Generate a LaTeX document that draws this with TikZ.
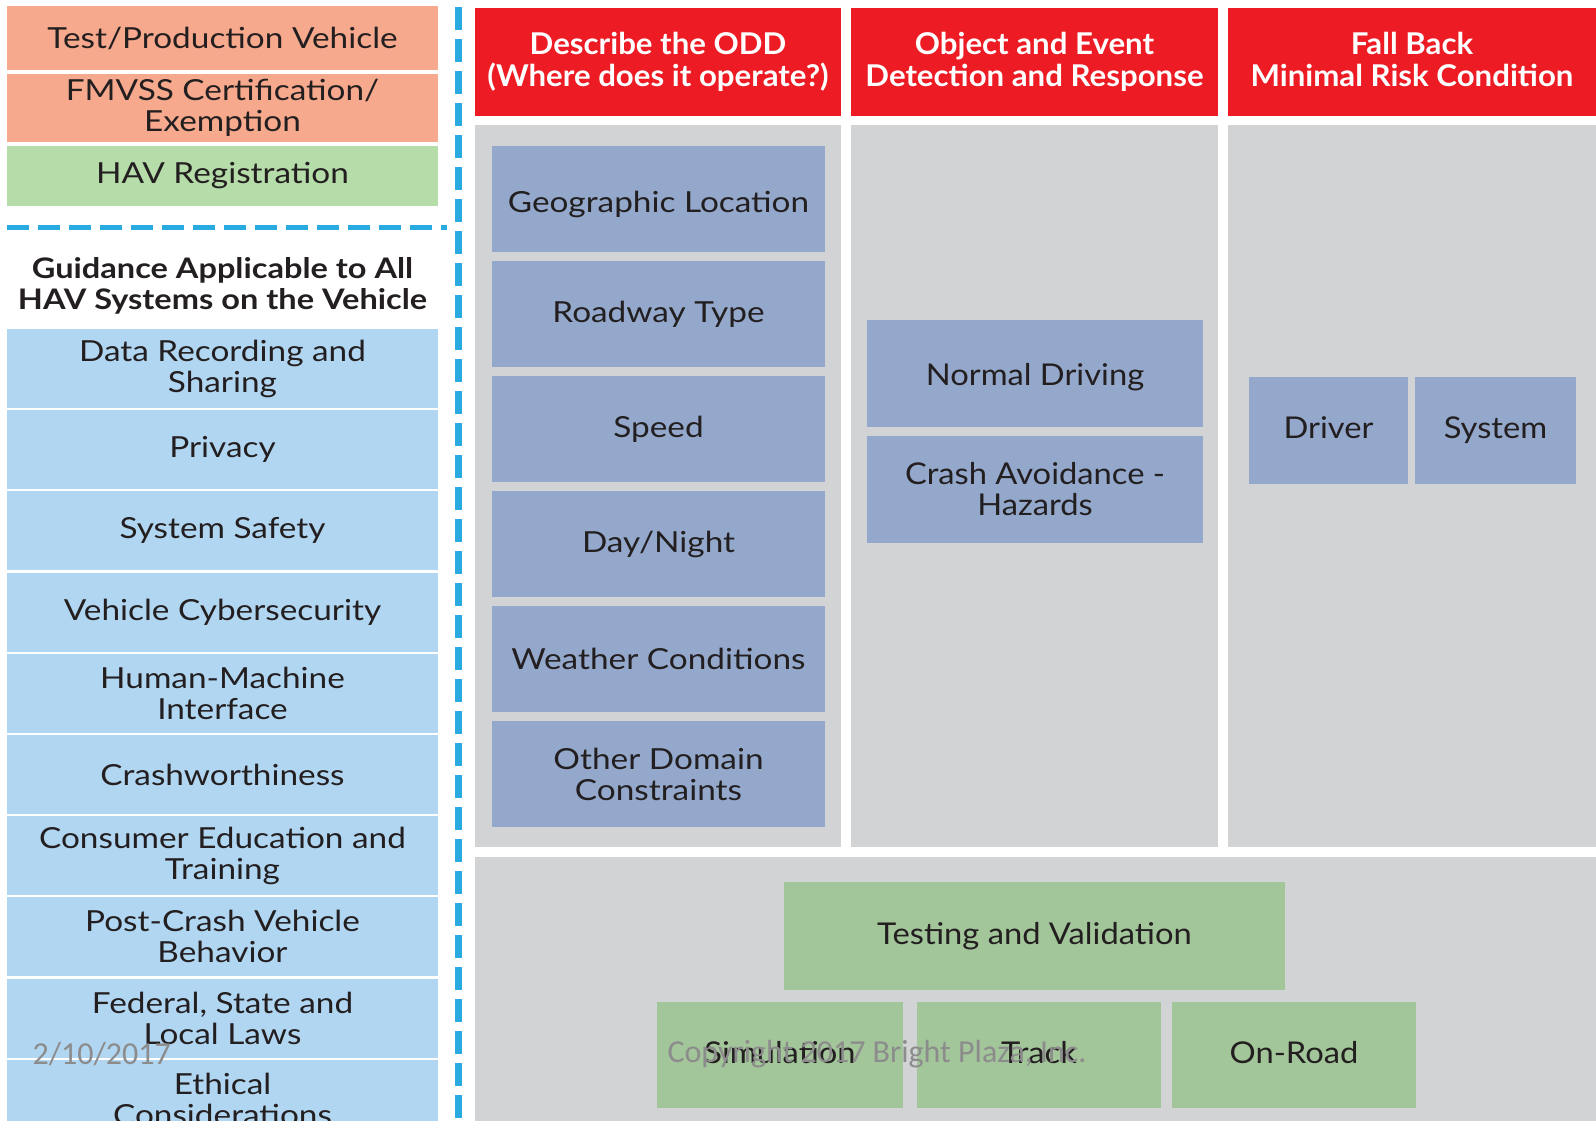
\documentclass[tikz,border=0pt]{standalone}
\usepackage{fontspec}
\setmainfont{Lato}[FakeStretch=1.15]
\newfontfamily\condfont[FakeStretch=1.09]{Lato}
\newfontfamily\headfont[FakeStretch=1.04]{Lato}
\newfontfamily\markfont{Carlito}

\definecolor{salmon}{HTML}{F6A98C}
\definecolor{regGreen}{HTML}{B5DCA9}
\definecolor{guideBlue}{HTML}{B1D6F1}
\definecolor{headRed}{HTML}{ED1C24}
\definecolor{panelGray}{HTML}{D1D3D4}
\definecolor{oddBlue}{HTML}{93A8CB}
\definecolor{testGreen}{HTML}{A3C59A}
\definecolor{dashBlue}{HTML}{29ABE2}
\definecolor{inkGray}{HTML}{231F20}
\definecolor{markGray}{HTML}{8C8C8C}

\begin{document}
\begin{tikzpicture}[x=1pt, y=-1pt,
    cell/.style={rectangle, inner sep=0pt, outer sep=0pt, align=center, text=inkGray,
                 font=\fontsize{29}{31}\selectfont},
    guide/.style={cell, fill=guideBlue, minimum width=431pt, minimum height=79pt},
    odd/.style={cell, fill=oddBlue, minimum height=106pt},
    head/.style={cell, fill=headRed, text=white, minimum height=108pt,
                 font=\headfont\bfseries\fontsize{30}{32}\selectfont},
    panel/.style={rectangle, fill=panelGray, inner sep=0pt, outer sep=0pt},
    trial/.style={cell, fill=testGreen, minimum height=107pt, font=\condfont\fontsize{30}{31}\selectfont},
    slidenote/.style={text=markGray, font=\markfont\fontsize{32}{34}\selectfont}]
    \useasboundingbox (0,0) rectangle (1596,1120);

    % left column
    \begin{scope}[every node/.style={cell, minimum width=431pt}]
        \node (TPV) [fill=salmon, minimum height=64pt] at (222.5, 38) {Test/Production Vehicle};
        \node (FMV) [fill=salmon, minimum height=68pt] at (222.5, 108) {FMVSS Certification/\\Exemption};
        \node (HAV) [fill=regGreen, minimum height=60pt] at (222.5, 176) {HAV Registration};
        \node (GAL) [font=\bfseries\fontsize{28.3}{31}\selectfont] at (222.5, 286) {Guidance Applicable to All\\HAV Systems on the Vehicle};
    \end{scope}

    \foreach \txt [count=\i from 0] in {
            {Data Recording and\\Sharing}, {Privacy}, {System Safety},
            {Vehicle Cybersecurity}, {Human-Machine\\Interface}, {Crashworthiness},
            {Consumer Education and\\Training}, {Post-Crash Vehicle\\Behavior},
            {Federal, State and\\Local Laws}, {Ethical\\Considerations}}
        \node (G\i) [guide] at (222.5, 368.5+81.2*\i) {\txt};

    % dashed separators
    \coordinate (VT) at (458, 0);
    \coordinate (VB) at (458, 1120);
    \coordinate (HL) at (7, 227);
    \coordinate (HR) at (447, 227);
    \draw [dashBlue, line width=7pt, dash pattern=on 23pt off 9pt, dash phase=-7pt] (VT) -- (VB);
    \draw [dashBlue, line width=5pt, dash pattern=on 22pt off 9pt] (HL) -- (HR);

    % gray panels
    \node (P1) [panel, minimum width=366pt, minimum height=722pt] at (658, 486) {};
    \node (P2) [panel, minimum width=367pt, minimum height=722pt] at (1034.5, 486) {};
    \node (P3) [panel, minimum width=368pt, minimum height=722pt] at (1412, 486) {};
    \node (P4) [panel, minimum width=1121pt, minimum height=280pt] at (1035.5, 997) {};

    % red headers
    \node (H1) [head, minimum width=366pt] at (658, 62) {Describe the ODD\\(Where does it operate?)};
    \node (H2) [head, minimum width=367pt] at (1034.5, 62) {Object and Event\\Detection and Response};
    \node (H3) [head, minimum width=368pt, text depth=5pt] at (1412, 62) {Fall Back\\Minimal Risk Condition};

    % ODD items
    \node (D0) [odd, minimum width=333pt, text height=27pt, text depth=0pt] at (658.5, 199) {Geographic Location};
    \foreach \txt [count=\i from 1] in {
            {Roadway Type}, {Speed}, {Day/Night},
            {Weather Conditions}, {Other Domain\\Constraints}}
        \node (D\i) [odd, minimum width=333pt] at (658.5, 199+115*\i) {\txt};

    % OEDR and fall back
    \begin{scope}[every node/.style={odd, minimum height=107pt, font=\condfont\fontsize{30}{31}\selectfont}]
        \node (ND) [minimum width=336pt, text height=23pt, text depth=0pt] at (1035, 373.5) {Normal Driving};
        \node (CA) [minimum width=336pt] at (1035, 489.5) {Crash Avoidance -\\Hazards};
        \node (DR) [minimum width=159pt, text depth=6pt] at (1328.5, 430.5) {Driver};
        \node (SY) [minimum width=161pt] at (1495.5, 430.5) {System};
    \end{scope}

    % testing
    \node (TV) [trial, minimum width=501pt, minimum height=108pt] at (1034.5, 936) {Testing and Validation};
    \node (SIM) [trial, minimum width=246pt, minimum height=106pt, text depth=6pt] at (780, 1055) {Simulation};
    \node (TRK) [trial, minimum width=244pt, minimum height=106pt, text depth=6pt] at (1039, 1055) {Track};
    \node (ONR) [trial, minimum width=244pt, minimum height=106pt, text depth=6pt] at (1294, 1055) {On-Road};

    % slide footer
    \node (DATE) [slidenote, anchor=west] at (29, 1054) {2/10/2017};
    \node (COPY) [slidenote, anchor=west] at (664, 1054) {Copyright 2017 Bright Plaza, Inc.};
\end{tikzpicture}
\end{document}
